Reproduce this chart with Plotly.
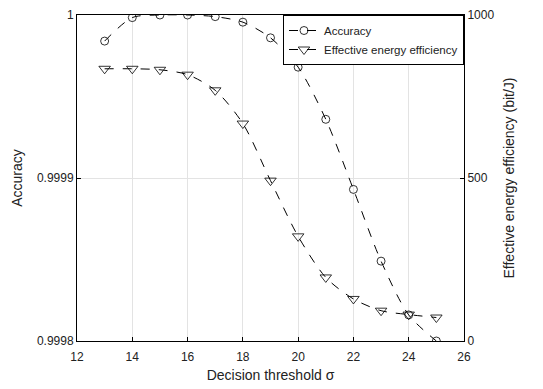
import plotly.graph_objects as go

sigma = [13, 14, 15, 16, 17, 18, 19, 20, 21, 22, 23, 24, 25]
accuracy = [0.999984, 0.9999984, 1.0, 1.0, 0.999999, 0.9999956, 0.999986,
            0.999968, 0.999936, 0.999893, 0.999849, 0.999816, 0.9998]
efficiency = [835, 835, 832, 817, 769, 667, 492, 321, 195, 129, 93, 81, 72]

x_ticks = [12, 14, 16, 18, 20, 22, 24, 26]
acc_ticks = [0.9998, 0.9999, 1.0]
acc_tick_text = ["0.9998", "0.9999", "1"]
eff_ticks = [0, 500, 1000]

font = dict(family="Liberation Sans, Arial, sans-serif", size=12, color="#222")

fig = go.Figure()
fig.add_trace(go.Scatter(
    x=sigma, y=accuracy, name="Accuracy", mode="lines+markers",
    line=dict(color="black", width=1, dash="dash", shape="spline", smoothing=0.8),
    marker=dict(symbol="circle-open", size=8, color="black", line=dict(width=0.8)),
))
fig.add_trace(go.Scatter(
    x=sigma, y=efficiency, name="Effective energy efficiency", mode="lines+markers",
    yaxis="y2",
    line=dict(color="black", width=1, dash="dash", shape="spline", smoothing=0.8),
    marker=dict(symbol="triangle-down-open", size=10, color="black", line=dict(width=0.8)),
))

fig.update_layout(
    width=543, height=389,
    margin=dict(l=77, r=79, t=8, b=48),
    paper_bgcolor="white", plot_bgcolor="white",
    font=font,
    showlegend=True,
    legend=dict(x=1, y=1, xanchor="right", yanchor="top",
                bordercolor="black", borderwidth=1, bgcolor="white",
                font=dict(size=11.5), tracegroupgap=0,
                itemwidth=30),
    xaxis=dict(range=[12, 26], tickvals=x_ticks, showgrid=True, gridcolor="#e3e3e3",
               gridwidth=1, zeroline=False, showline=True, linecolor="black",
               linewidth=1, mirror=True, ticks="inside", ticklen=4, tickcolor="black",
               ticklabelstandoff=5,
               title=dict(text="Decision threshold σ", standoff=6)),
    yaxis=dict(range=[0.9998, 1.0], tickvals=acc_ticks, ticktext=acc_tick_text,
               showgrid=True, gridcolor="#e3e3e3", zeroline=False, showline=True,
               linecolor="black", linewidth=1, ticks="inside", ticklen=4,
               tickcolor="black", title=dict(text="Accuracy", standoff=10)),
    yaxis2=dict(range=[0, 1000], tickvals=eff_ticks, overlaying="y", side="right",
                showgrid=False, zeroline=False, showline=True, linecolor="black",
                linewidth=1, ticks="inside", ticklen=4, tickcolor="black",
                title=dict(text="Effective energy efficiency (bit/J)", standoff=10)),
)

fig.write_html("out.html")
